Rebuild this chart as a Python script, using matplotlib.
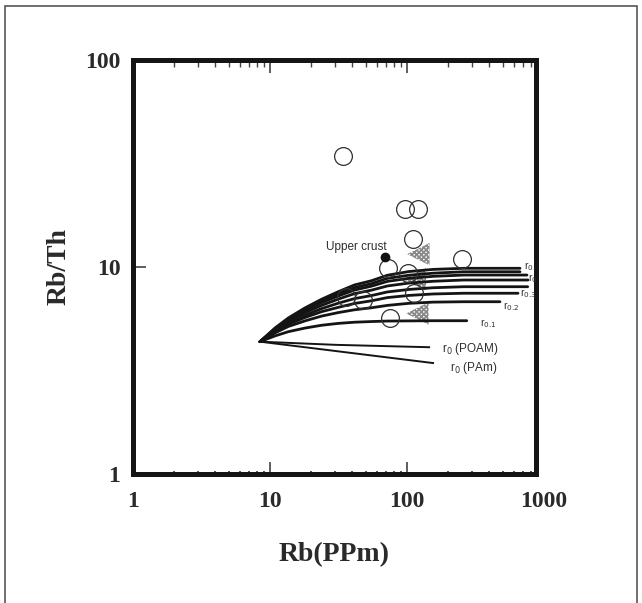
import matplotlib
matplotlib.use("Agg")
import matplotlib.pyplot as plt
from matplotlib.patches import Rectangle
from matplotlib.ticker import FixedLocator, NullFormatter

plt.rcParams["hatch.linewidth"] = 1.3

# ---------------- data ----------------
# open circles: samples
circle_rb = [34.3, 96.7, 119.7, 110, 251, 72.3, 102, 113, 35.9, 48, 75.2]
circle_ratio = [34.2, 19.0, 19.0, 13.6, 10.9, 9.9, 9.3, 7.45, 7.17, 6.91, 5.64]

# hatched triangles
tri_rb = [121, 114, 119]
tri_ratio = [11.5, 8.7, 5.95]

# upper crust reference point
crust_rb = [69]
crust_ratio = [11.1]

# model curves (Rb, Rb/Th)
curve_x = [8.45, 10.9, 13.6, 18, 23.8, 31.5, 41.4, 55, 72, 103, 155, 260]
curve_r01_x = [8.45, 10.9, 13.6, 18, 23.8, 31.5, 41.4, 55, 72, 103, 155, 273]
curve_r01_y = [4.35, 4.64, 4.86, 5.06, 5.22, 5.33, 5.40, 5.44, 5.47, 5.48, 5.49, 5.49]
curve_r02_y = [4.35, 4.80, 5.15, 5.48, 5.78, 6.01, 6.20, 6.34, 6.51, 6.66, 6.75, 6.78, 6.78]
curve_r03_y = [4.35, 4.87, 5.28, 5.69, 6.07, 6.37, 6.65, 6.85, 7.10, 7.27, 7.39, 7.45, 7.45]
curve_r04_y = [4.35, 4.91, 5.37, 5.83, 6.28, 6.67, 7.02, 7.26, 7.56, 7.77, 7.92, 8.01, 8.01]
curve_r05_y = [4.35, 4.97, 5.47, 6.00, 6.51, 6.98, 7.42, 7.71, 8.08, 8.34, 8.51, 8.63, 8.63]
curve_r06_y = [4.35, 5.01, 5.55, 6.14, 6.71, 7.23, 7.72, 8.06, 8.50, 8.79, 8.99, 9.12, 9.12]
curve_r07_y = [4.35, 5.03, 5.60, 6.22, 6.83, 7.39, 7.93, 8.29, 8.79, 9.10, 9.31, 9.46, 9.46]
curve_r08_y = [4.35, 5.07, 5.66, 6.33, 6.97, 7.58, 8.17, 8.56, 9.10, 9.48, 9.71, 9.83, 9.83]
curve_ends = [477, 646, 760, 764, 751, 668, 668]
poam_x = [8.45, 30, 145]
poam_y = [4.35, 4.20, 4.09]
pam_x = [8.45, 155]
pam_y = [4.35, 3.43]

x_tick_values = [1, 10, 100, 1000]
x_tick_labels = ["1", "10", "100", "1000"]
y_tick_values = [1, 10, 100]
y_tick_labels = ["1", "10", "100"]
minor_values = [m * d for d in (1, 10, 100) for m in range(2, 10)]

# ---------------- figure ----------------
W, H = 642, 603
fig = plt.figure(figsize=(W / 100, H / 100), dpi=100)
fig.patch.set_facecolor("white")
ax = fig.add_axes([133 / W, 1 - 474 / H, (536 - 133) / W, (474 - 59.5) / H])
ax.set_xscale("log")
ax.set_yscale("log")
ax.set_xlim(1, 874)
ax.set_ylim(1, 100)

line_col = "#141414"
rising = [curve_r02_y, curve_r03_y, curve_r04_y, curve_r05_y,
          curve_r06_y, curve_r07_y, curve_r08_y]
ax.plot(curve_r01_x, curve_r01_y, color=line_col, lw=2.0, solid_capstyle="round", zorder=3)
for ys, xe in zip(rising, curve_ends):
    ax.plot(curve_x + [xe], ys, color=line_col, lw=2.0, solid_capstyle="round", zorder=3)
ax.plot(poam_x, poam_y, color=line_col, lw=1.4, zorder=3)
ax.plot(pam_x, pam_y, color=line_col, lw=1.4, zorder=3)

ax.scatter(tri_rb, tri_ratio, marker="<", s=260, facecolor="white",
           edgecolor="#8a8a8a", linewidths=0, hatch="xxxxxxx", zorder=2)
ax.plot(circle_rb, circle_ratio, ls="none", marker="o", ms=12.8,
        mfc="none", mec="#303030", mew=0.9, zorder=4)
ax.plot(crust_rb, crust_ratio, ls="none", marker="o", ms=6,
        mfc="#111111", mec="#111111", zorder=5)

# annotations
sans = "Liberation Sans"
tc = "#2e2e2e"
ax.text(42.4, 12.5, "Upper crust", fontsize=8.5, family=sans, color=tc,
        ha="center", va="center")
ax.text(341, 5.29, r"r$_{0.1}$", fontsize=7.5, family=sans, color=tc, va="center")
ax.text(502, 6.43, r"r$_{0.2}$", fontsize=7.5, family=sans, color=tc, va="center")
ax.text(668, 7.39, r"r$_{0.3}$", fontsize=7.5, family=sans, color=tc, va="center", clip_on=True)
ax.text(770, 8.73, r"r$_{0.5}$", fontsize=7.5, family=sans, color=tc, va="center", clip_on=True)
ax.text(720, 9.97, r"r$_{0.8}$", fontsize=7.5, family=sans, color=tc, va="center", clip_on=True)
ax.text(180, 4.0, r"r$_0$ (POAM)", fontsize=8.5, family=sans, color=tc, va="center")
ax.text(206, 3.25, r"r$_0$ (PAm)", fontsize=8.5, family=sans, color=tc, va="center")

# spines
for sp in ax.spines.values():
    sp.set_linewidth(3.6)
    sp.set_color("#151515")

# ticks
serif = "Liberation Serif"
lab_col = "#2a2a2a"
ax.xaxis.set_major_locator(FixedLocator(x_tick_values[:3]))
ax.yaxis.set_major_locator(FixedLocator(y_tick_values))
ax.xaxis.set_minor_locator(FixedLocator(minor_values))
ax.yaxis.set_minor_locator(FixedLocator(minor_values[:16]))
ax.xaxis.set_minor_formatter(NullFormatter())
ax.yaxis.set_minor_formatter(NullFormatter())
ax.set_xticklabels(x_tick_labels[:3])
ax.set_yticklabels(y_tick_labels)
ax.tick_params(which="major", direction="in", length=9, width=1.1, color="#333333",
               top=True, bottom=True, left=True, right=False, pad=12,
               labelsize=17, labelcolor=lab_col)
ax.tick_params(axis="y", which="major", pad=9)
ax.tick_params(which="minor", direction="in", length=2.5, width=1.3, color="#444444",
               top=True, bottom=True, left=True, right=False)
for t in ax.get_xticklabels() + ax.get_yticklabels():
    t.set_fontfamily(serif)
    t.set_fontweight("bold")
for t in ax.xaxis.get_minor_ticks():
    t.tick2line.set_markersize(5)
    t.tick2line.set_markeredgewidth(1.0)

# "1000" label sits beyond the frame in the reference
ax.text(x_tick_values[3], -0.066, x_tick_labels[3], transform=ax.get_xaxis_transform(),
        ha="center", va="center", fontsize=17, fontweight="bold", family=serif,
        color=lab_col, clip_on=False)

ax.set_xlabel("Rb(PPm)", fontsize=20, fontweight="bold", family=serif,
              color=lab_col, labelpad=22)
ax.set_ylabel("Rb/Th", fontsize=20, fontweight="bold", family=serif,
              color=lab_col, labelpad=10)

# outer frame of the picture
fig.add_artist(Rectangle((5.5 / W, -0.02), (637 - 5.5) / W, 1.02 - 5.5 / H,
                         transform=fig.transFigure, fill=False,
                         edgecolor="#555555", lw=1.2))

fig.savefig("out.png", dpi=100, facecolor="white")
